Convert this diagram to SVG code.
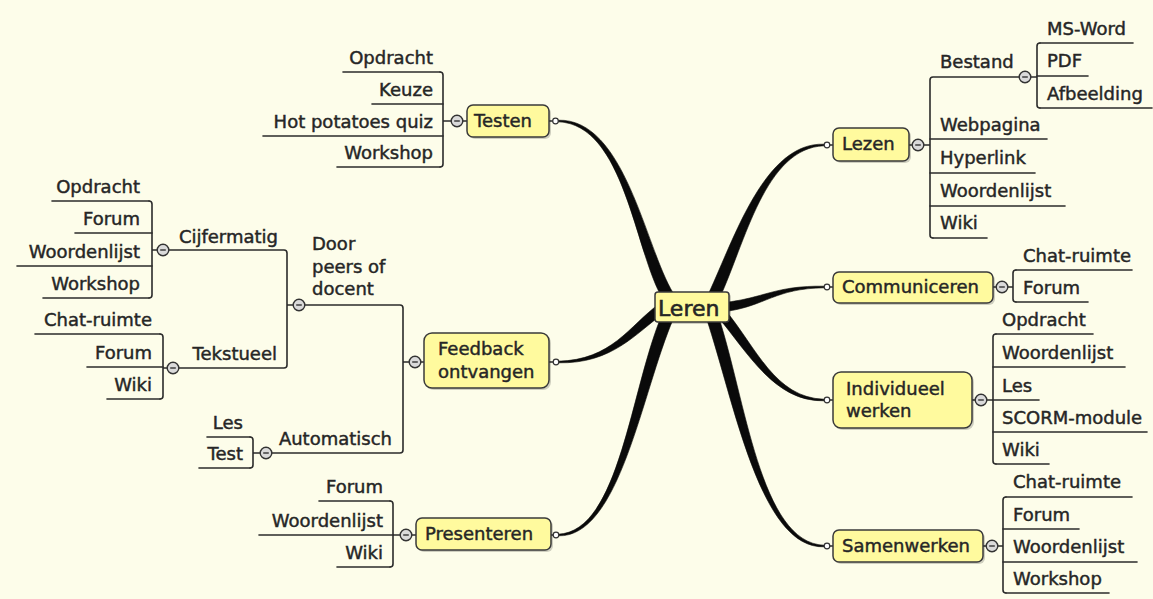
<svg xmlns="http://www.w3.org/2000/svg" width="1153" height="599" viewBox="0 0 1153 599">
<style>
.t{font-family:"DejaVu Sans",Verdana,sans-serif;font-size:18px;fill:#262626;stroke:#262626;stroke-width:0.45}
.e{text-anchor:end}
.ln{stroke:#2b2b2b;stroke-width:1.6;fill:none;stroke-linecap:round}
.box{fill:#FFFA9E;stroke:#3a3a3a;stroke-width:1.5}
.sh{fill:#000;opacity:0.18}
.col{fill:#dadada;stroke:#333;stroke-width:1.4}
.mn{stroke:#333;stroke-width:1.4}
.dot{fill:#fff;stroke:#333;stroke-width:1.2}
.cv{fill:#0a0a0a;stroke:#0a0a0a;stroke-width:0.6}
</style>
<defs>
<g id="collapse"><circle class="col" r="5.8"/><line class="mn" x1="-2.8" y1="0" x2="2.8" y2="0"/></g>
</defs>
<rect width="1153" height="599" fill="#FDFDEA"/>

<g id="connectors">
<path class="cv" d="M558,121.8 C625,124 634.9,253.1 662.9,299.1 L673.1,292.9 C645.1,246.9 625,118 558,120.2 Z"/>
<path class="cv" d="M824,144.2 C765,142 734.6,237.5 708.6,293.5 L719.4,298.5 C745.4,242.5 765,148 824,145.8 Z"/>
<path class="cv" d="M824,286.2 C775,285.5 764.5,298 724.4,302.5 L725.6,311.5 C765.5,306 775,288.5 824,287.8 Z"/>
<path class="cv" d="M824,399.2 C775,398 755.8,346.8 725.8,310.8 L718.2,317.2 C748.2,353.2 775,402 824,400.8 Z"/>
<path class="cv" d="M824,545.2 C760,543 745.7,398.1 717.7,314.1 L706.3,317.9 C734.3,401.9 760,549 824,546.8 Z"/>
<path class="cv" d="M558,362.8 C612,364 635,334 665,312 L659,304 C629,326 612,360 558,361.2 Z"/>
<path class="cv" d="M558,535.8 C620,538 641.5,392.4 673.5,318.4 L662.5,313.6 C630.5,387.6 620,532 558,534.2 Z"/>

<path class="ln" d="M440,72 Q443,72 443,75 V164 Q443,167 440,167 M443,121 H452 M462,121 H467"/>
<path class="ln" d="M149,201 Q152,201 152,204 V295 Q152,298 149,298 M152,250 H158"/>
<path class="ln" d="M168,250 H284 Q287,250 287,253 V365 Q287,368 284,368 H178 M287,305 H294"/>
<path class="ln" d="M160,334 Q163,334 163,337 V396 Q163,399 160,399 M163,368 H168"/>
<path class="ln" d="M304,305 H400 Q403,305 403,308 V450 Q403,453 400,453 H271 M403,362 H410 M420,362 H424"/>
<path class="ln" d="M250,437 Q253,437 253,440 V465 Q253,468 250,468 M253,453 H261"/>
<path class="ln" d="M390,501 Q393,501 393,504 V564 Q393,567 390,567 M393,535 H401 M411,535 H416"/>

<path class="ln" d="M909,145 H913 M923,145 H930 M1020,77 H933 Q930,77 930,80 V235 Q930,238 933,238"/>
<path class="ln" d="M1030,77 H1037 M1040,43 Q1037,43 1037,46 V105 Q1037,108 1040,108"/>
<path class="ln" d="M993,287 H997 M1007,287 H1013 M1016,270 Q1013,270 1013,273 V299 Q1013,302 1016,302"/>
<path class="ln" d="M972,400 H976 M986,400 H993 M996,334 Q993,334 993,337 V461 Q993,464 996,464"/>
<path class="ln" d="M983,546 H987 M997,546 H1003 M1006,497 Q1003,497 1003,500 V590 Q1003,593 1006,593"/>

<path class="ln" d="M549,121 H553 M549,362 H553 M551,535 H553 M830,145 H833 M830,287 H833 M830,400 H833 M830,546 H833"/>
</g>

<g id="leren">
<rect class="sh" x="657" y="294" width="74" height="30" rx="3"/>
<rect class="box" x="655" y="292" width="74" height="30" rx="3"/>
<text class="t" x="658" y="316" style="font-size:22px;stroke-width:0.6">Leren</text>
</g>

<g id="testen">
<rect class="sh" x="469" y="107" width="82" height="32" rx="6"/>
<rect class="box" x="467" y="105" width="82" height="32" rx="6"/>
<text class="t" x="474" y="127">Testen</text>
<use href="#collapse" x="457" y="121"/>
<circle class="dot" cx="555.5" cy="121" r="2.8"/>
</g>
<g id="testen-opdracht"><path class="ln" d="M343,72 H440"/><text class="t e" x="433" y="64">Opdracht</text></g>
<g id="testen-keuze"><path class="ln" d="M372,104 H443"/><text class="t e" x="433" y="96">Keuze</text></g>
<g id="testen-hotpot"><path class="ln" d="M263,136 H443"/><text class="t e" x="433" y="128">Hot potatoes quiz</text></g>
<g id="testen-workshop"><path class="ln" d="M337,167 H440"/><text class="t e" x="433" y="159">Workshop</text></g>

<g id="feedback">
<rect class="sh" x="426" y="335" width="125" height="55" rx="8"/>
<rect class="box" x="424" y="333" width="125" height="55" rx="8"/>
<text class="t" x="438" y="355">Feedback</text>
<text class="t" x="438" y="378">ontvangen</text>
<use href="#collapse" x="415" y="362"/>
<circle class="dot" cx="556" cy="362" r="2.8"/>
</g>
<g id="door-peers">
<text class="t" x="312" y="250">Door</text>
<text class="t" x="312" y="273">peers of</text>
<text class="t" x="312" y="295">docent</text>
<use href="#collapse" x="299" y="305"/>
</g>
<g id="cijfermatig">
<text class="t e" x="278" y="243">Cijfermatig</text>
<use href="#collapse" x="163" y="250"/>
</g>
<g id="cijf-opdracht"><path class="ln" d="M52,201 H149"/><text class="t e" x="140" y="193">Opdracht</text></g>
<g id="cijf-forum"><path class="ln" d="M75,233 H152"/><text class="t e" x="140" y="225">Forum</text></g>
<g id="cijf-woordenlijst"><path class="ln" d="M17,266 H152"/><text class="t e" x="140" y="258">Woordenlijst</text></g>
<g id="cijf-workshop"><path class="ln" d="M43,298 H149"/><text class="t e" x="140" y="290">Workshop</text></g>
<g id="tekstueel">
<text class="t e" x="277" y="360">Tekstueel</text>
<use href="#collapse" x="173" y="368"/>
</g>
<g id="tekst-chat"><path class="ln" d="M35,334 H160"/><text class="t e" x="152" y="326">Chat-ruimte</text></g>
<g id="tekst-forum"><path class="ln" d="M87,367 H163"/><text class="t e" x="152" y="359">Forum</text></g>
<g id="tekst-wiki"><path class="ln" d="M107,399 H160"/><text class="t e" x="152" y="391">Wiki</text></g>
<g id="automatisch">
<text class="t e" x="392" y="445">Automatisch</text>
<use href="#collapse" x="266" y="453"/>
</g>
<g id="auto-les"><path class="ln" d="M207,437 H250"/><text class="t e" x="243" y="429">Les</text></g>
<g id="auto-test"><path class="ln" d="M199,468 H250"/><text class="t e" x="243" y="460">Test</text></g>

<g id="presenteren">
<rect class="sh" x="418" y="520" width="135" height="32" rx="6"/>
<rect class="box" x="416" y="518" width="135" height="32" rx="6"/>
<text class="t" x="425" y="540">Presenteren</text>
<use href="#collapse" x="406" y="535"/>
<circle class="dot" cx="556" cy="535" r="2.8"/>
</g>
<g id="pres-forum"><path class="ln" d="M319,501 H390"/><text class="t e" x="383" y="493">Forum</text></g>
<g id="pres-woordenlijst"><path class="ln" d="M259,535 H393"/><text class="t e" x="383" y="527">Woordenlijst</text></g>
<g id="pres-wiki"><path class="ln" d="M337,567 H390"/><text class="t e" x="383" y="559">Wiki</text></g>

<g id="lezen">
<rect class="sh" x="835" y="130" width="76" height="33" rx="6"/>
<rect class="box" x="833" y="128" width="76" height="33" rx="6"/>
<text class="t" x="842" y="150">Lezen</text>
<use href="#collapse" x="918" y="145"/>
<circle class="dot" cx="827" cy="145" r="2.8"/>
</g>
<g id="bestand">
<text class="t" x="940" y="68">Bestand</text>
<use href="#collapse" x="1025" y="77"/>
</g>
<g id="best-msword"><path class="ln" d="M1040,43 H1133"/><text class="t" x="1047" y="35">MS-Word</text></g>
<g id="best-pdf"><path class="ln" d="M1037,76 H1088"/><text class="t" x="1047" y="67">PDF</text></g>
<g id="best-afbeelding"><path class="ln" d="M1040,108 H1152"/><text class="t" x="1047" y="100">Afbeelding</text></g>
<g id="lez-webpagina"><path class="ln" d="M930,139 H1047"/><text class="t" x="940" y="131">Webpagina</text></g>
<g id="lez-hyperlink"><path class="ln" d="M930,173 H1035"/><text class="t" x="940" y="164">Hyperlink</text></g>
<g id="lez-woordenlijst"><path class="ln" d="M930,206 H1065"/><text class="t" x="940" y="197">Woordenlijst</text></g>
<g id="lez-wiki"><path class="ln" d="M933,238 H987"/><text class="t" x="940" y="229">Wiki</text></g>

<g id="communiceren">
<rect class="sh" x="835" y="274" width="160" height="31" rx="6"/>
<rect class="box" x="833" y="272" width="160" height="31" rx="6"/>
<text class="t" x="842" y="293">Communiceren</text>
<use href="#collapse" x="1002" y="287"/>
<circle class="dot" cx="827" cy="287" r="2.8"/>
</g>
<g id="com-chat"><path class="ln" d="M1016,270 H1132"/><text class="t" x="1023" y="262">Chat-ruimte</text></g>
<g id="com-forum"><path class="ln" d="M1016,302 H1088"/><text class="t" x="1023" y="294">Forum</text></g>

<g id="individueel">
<rect class="sh" x="835" y="374" width="139" height="56" rx="8"/>
<rect class="box" x="833" y="372" width="139" height="56" rx="8"/>
<text class="t" x="846" y="395">Individueel</text>
<text class="t" x="846" y="417">werken</text>
<use href="#collapse" x="981" y="400"/>
<circle class="dot" cx="827" cy="400" r="2.8"/>
</g>
<g id="ind-opdracht"><path class="ln" d="M996,334 H1093"/><text class="t" x="1002" y="326">Opdracht</text></g>
<g id="ind-woordenlijst"><path class="ln" d="M993,367 H1125"/><text class="t" x="1002" y="359">Woordenlijst</text></g>
<g id="ind-les"><path class="ln" d="M993,400 H1039"/><text class="t" x="1002" y="392">Les</text></g>
<g id="ind-scorm"><path class="ln" d="M993,432 H1147"/><text class="t" x="1002" y="424">SCORM-module</text></g>
<g id="ind-wiki"><path class="ln" d="M996,464 H1049"/><text class="t" x="1002" y="456">Wiki</text></g>

<g id="samenwerken">
<rect class="sh" x="835" y="532" width="150" height="32" rx="6"/>
<rect class="box" x="833" y="530" width="150" height="32" rx="6"/>
<text class="t" x="842" y="552">Samenwerken</text>
<use href="#collapse" x="992" y="546"/>
<circle class="dot" cx="827" cy="546" r="2.8"/>
</g>
<g id="sam-chat"><path class="ln" d="M1006,497 H1132"/><text class="t" x="1013" y="488">Chat-ruimte</text></g>
<g id="sam-forum"><path class="ln" d="M1003,529 H1079"/><text class="t" x="1013" y="521">Forum</text></g>
<g id="sam-woordenlijst"><path class="ln" d="M1003,562 H1137"/><text class="t" x="1013" y="553">Woordenlijst</text></g>
<g id="sam-workshop"><path class="ln" d="M1006,593 H1109"/><text class="t" x="1013" y="585">Workshop</text></g>
</svg>
